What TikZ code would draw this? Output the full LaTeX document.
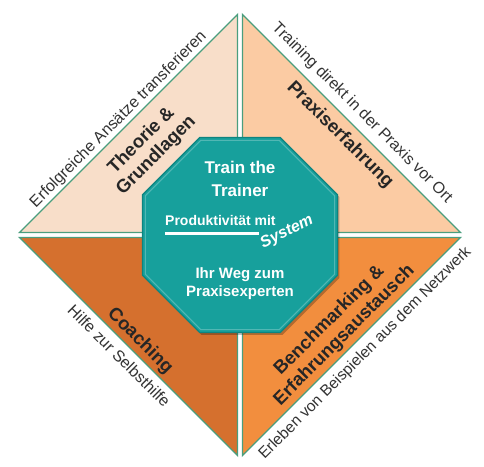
\documentclass[tikz,border=0pt]{standalone}
\usepackage{fontspec}
\setmainfont{Liberation Sans}
\usepackage{xcolor}
\usepackage{tikz}
\usetikzlibrary{shapes.geometric}
\usetikzlibrary{calc}

\definecolor{edgegreen}{HTML}{4A9E7E}
\definecolor{paleorange}{HTML}{F8DEC9}
\definecolor{peach}{HTML}{FBCBA3}
\definecolor{rust}{HTML}{D5702E}
\definecolor{brightorange}{HTML}{F28E3E}
\definecolor{tealcore}{HTML}{17A09C}
\definecolor{tealdark}{HTML}{0E8480}

\tikzset{
  quadrant/.style={draw=edgegreen, line width=1.3pt, line join=miter},
  headline/.style={font=\fontsize{18.5}{21}\selectfont\bfseries, align=center, text=black!85, inner sep=0pt},
  remark/.style={font=\fontsize{16}{19}\selectfont, text=black!80, inner sep=0pt},
  octa/.style={regular polygon, regular polygon sides=8, minimum size=211pt, inner sep=0pt},
  coretext/.style={text=white, font=\bfseries, align=center, inner sep=0pt}
}

\begin{document}
\begin{tikzpicture}[x=1pt,y=1pt]
  \useasboundingbox (-240,-231) rectangle (244,235);
  % four quadrants
  \fill[paleorange] (-2.5,2.5) -- (-2.5,220.5) -- (-220.5,2.5) -- cycle;
  \draw[quadrant] (-2.5,2.5) -- (-2.5,220.5) -- (-220.5,2.5) -- cycle;
  \fill[peach] (2.5,2.5) -- (2.5,220.5) -- (220.5,2.5) -- cycle;
  \draw[quadrant] (2.5,2.5) -- (2.5,220.5) -- (220.5,2.5) -- cycle;
  \fill[rust] (-2.5,-2.5) -- (-2.5,-220.5) -- (-220.5,-2.5) -- cycle;
  \draw[quadrant] (-2.5,-2.5) -- (-2.5,-220.5) -- (-220.5,-2.5) -- cycle;
  \fill[brightorange] (2.5,-2.5) -- (2.5,-220.5) -- (220.5,-2.5) -- cycle;
  \draw[quadrant] (2.5,-2.5) -- (2.5,-220.5) -- (220.5,-2.5) -- cycle;

  % labels inside the quadrants
  \node[headline, rotate=45] (theo) at (-91,87) {Theorie \&\\Grundlagen};
  \node[headline, rotate=-45] (prax) at (100,100) {Praxiserfahrung};
  \node[headline, rotate=-45] (coach) at (-100,-106) {Coaching};
  \node[headline, rotate=45] (bench) at (97,-93) {Benchmarking \&\\Erfahrungsaustausch};

  % texts along the outer edges
  \node[remark, rotate=45, anchor=south] (theoR) at (-116,110) {Erfolgreiche Ansätze transferieren};
  \node[remark, rotate=-45, anchor=south] (praxR) at (116.5,116.5) {Training direkt in der Praxis vor Ort};
  \node[remark, rotate=-45, anchor=north] (coachR) at (-116.5,-116.5) {Hilfe zur Selbsthilfe};
  \node[remark, rotate=45, anchor=north, font=\fontsize{15.6}{19}\selectfont] (benchR) at (120,-113) {Erleben von Beispielen aus dem Netzwerk};

  % centre
  \node[octa, fill=black, opacity=0.25] (shade) at (2,-2.5) {};
  \node[octa, fill=tealcore, draw=tealdark, line width=1.2pt] (core) at (0,0) {};
  \node[octa, draw=white, opacity=0.25, line width=1pt, minimum size=205pt] (rim) at (0,0) {};
  \node[coretext, font=\fontsize{17}{23}\selectfont\bfseries] (ttt) at (0,56.5) {Train the\\Trainer};
  \node[coretext, font=\fontsize{14}{16}\selectfont\bfseries, anchor=west] (prod) at (-75,15) {Produktivität mit};
  \draw[white, line width=3pt] (-75,2) -- (19,2);
  \node[coretext, font=\fontsize{16}{18}\selectfont\bfseries\itshape, rotate=27] (sys) at (47,3) {System};
  \node[coretext, font=\fontsize{15}{18}\selectfont\bfseries] (weg) at (0,-49) {Ihr Weg zum\\Praxisexperten};
\end{tikzpicture}
\end{document}
